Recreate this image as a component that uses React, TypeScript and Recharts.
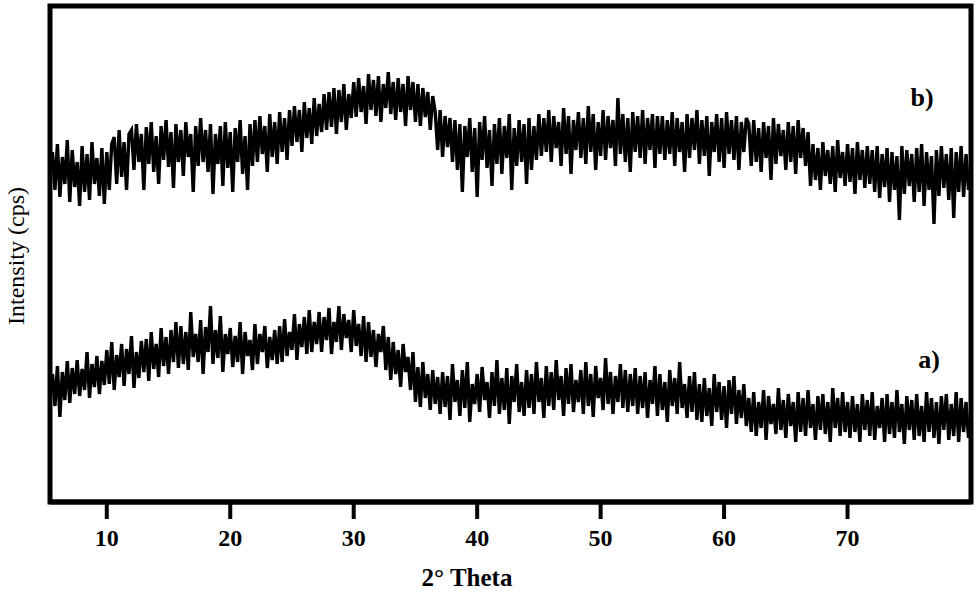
import { ComposedChart, Line, XAxis, YAxis, ReferenceArea } from "recharts";

// 2θ scan grid of the diffractometer
const THETA_START = 5.6;
const THETA_STEP = 0.2;
const X_TICKS = [10, 20, 30, 40, 50, 60, 70];

// a) lower trace, intensity (arbitrary cps)
const seriesA = [
  128, 96, 136, 85, 130, 102, 141, 99, 134, 108,
  142, 106, 133, 112, 150, 104, 138, 115, 146, 108, 141, 117,
  152, 118, 160, 112, 147, 125, 158, 116, 153, 128, 166, 114, 150, 124, 161,
  130, 163, 121, 170, 133, 158, 125, 174, 136, 165, 128, 172, 140, 180, 134,
  176, 138, 170, 132, 190, 145, 168, 140, 182, 128, 175, 150, 196, 138, 172, 144, 186, 130, 168, 148,
  174, 135, 166, 140, 180, 128, 170, 146, 162, 132, 178, 138, 168, 150, 176, 134, 165, 142, 172, 138,
  176, 140, 183, 146, 170, 152, 188, 142, 178, 155, 185, 148, 192, 150, 180,
  158, 190, 150, 185, 162, 194, 148, 180, 160, 196, 152, 188, 164, 182, 150, 192, 156, 178, 146, 186,
  140, 180, 145, 172, 135, 168, 150, 176, 132, 165,
  122, 160, 128, 152, 115, 158, 130, 145, 112, 150,
  100, 135, 95, 140, 104, 128, 92, 132, 98, 125,
  88, 130, 95, 126, 82, 138, 100, 122, 86, 132, 94, 140, 80, 118, 98, 128, 90, 135, 102, 120,
  84, 130, 96, 142, 88, 124, 92, 134, 78, 126, 100, 138, 90, 120, 86,
  132, 94, 128, 88, 140, 100, 124, 84, 136, 96, 130, 92, 142, 102, 126, 86, 134, 98, 138, 90,
  122, 100, 132, 88, 140, 96, 128, 85, 136, 104, 124, 92, 144, 98, 130, 88, 126, 100, 138, 94,
  132, 90, 128, 96, 134,
  88, 126, 94, 130, 84, 122, 98, 136, 86, 128, 92, 120, 80, 132, 96, 124, 88, 140, 94, 118,
  84, 126, 90, 130, 82,
  118, 80, 124, 86, 114, 76, 128, 90, 120, 82, 116, 74, 122, 88, 126, 78, 112, 84, 118, 76,
  104, 70, 110, 66, 100, 74, 112, 62, 106, 78, 98, 68, 114, 72, 102, 64, 108, 76, 100, 60,
  110, 70, 104, 66, 112, 74, 98, 62, 106, 72, 108, 68, 100, 60, 114, 74, 104, 66, 110, 70,
  100, 64, 106, 70, 98, 60, 108, 72, 102, 66, 110, 62, 96, 74, 104, 60, 108, 68, 100, 64,
  112, 70, 98, 58, 106, 72, 102, 62, 108, 66, 96, 60, 110, 70, 104, 64, 100, 58, 106, 72,
  108, 62, 98, 66, 110, 60, 104, 70, 100, 64,
];

// b) upper trace
const seriesB = [
  350, 312, 358, 305, 345, 318, 362, 300, 352, 315, 340, 296, 356, 310, 348, 302, 360, 318, 344, 306,
  354, 298, 350, 312, 358,
  365, 318, 372, 325, 360, 312, 368,
  372, 332, 378, 340, 368, 312, 375, 338, 380, 330, 366, 318, 376, 342, 382, 335, 370, 314,
  378, 340, 372, 326, 380, 345, 368, 310, 376, 336, 384, 340,
  372, 330, 378, 308, 368, 338, 376, 316, 380, 334, 370, 310, 374, 340, 382, 328, 366, 312, 378, 336,
  382, 340, 386, 348, 376, 330, 388, 345, 380, 338, 390, 350, 384, 342, 392,
  356, 396, 360, 392, 350, 400, 364, 394, 358, 404, 366, 398, 370, 408, 372,
  410, 375, 414, 368, 412, 380, 418, 372, 408, 384,
  420, 385, 424, 390, 416, 378, 428, 392, 422, 386, 426, 380, 418, 394, 430, 388, 420, 382, 424, 390,
  418, 376, 426, 392, 420,
  380, 418, 376, 414, 385, 410, 372, 406,
  390, 352, 392, 345, 386, 355, 384,
  340, 382, 332, 378, 310, 376, 345, 384, 330, 374, 305, 380, 342, 386, 334, 372, 316, 378, 338, 384,
  328, 376, 344, 388, 312, 374, 336, 382, 340, 378, 318, 384, 332, 376, 342,
  388, 346, 384, 350, 392, 340, 386, 354, 380, 336, 394, 348, 386, 328, 382, 352, 390, 344, 384, 338,
  396, 350, 388, 332, 380, 346, 392, 342, 386, 354, 382, 336, 404, 348, 388, 340, 384, 330, 390, 350,
  386, 344, 392, 338, 384, 352, 388, 334, 386, 348,
  386, 342, 382, 348, 390, 336, 384, 350, 380, 330, 388, 344, 384, 352, 392, 338, 382, 346, 386, 326,
  380, 350, 388, 340, 384, 334, 390, 348, 382, 342, 386, 332, 380, 350, 384,
  378, 336, 382, 340, 374, 330, 380, 344, 376, 322, 384, 338, 378, 346, 372, 332, 380, 340, 376, 328,
  382, 344, 374, 336, 370,
  316, 358, 322, 354, 312, 360, 326, 352, 318, 356, 310, 362, 324, 350, 316, 358, 320, 354, 308, 360,
  322, 352, 314, 356, 318,
  352, 310, 356, 304, 348, 315, 354, 300, 350, 312, 346, 282, 356, 308, 352, 316, 348, 300, 354, 310,
  358, 296, 350, 312, 346, 278, 352, 306, 356, 314, 348, 302, 354, 284, 350, 310, 356, 305, 348, 312,
];

const toRows = (vals: number[]) =>
  vals.map((v, i) => ({ theta: +(THETA_START + i * THETA_STEP).toFixed(1), cps: v }));

const rowsA = toRows(seriesA);
const rowsB = toRows(seriesB);

const FONT = "'Liberation Serif', 'DejaVu Serif', serif";

export default function App() {
  return (
    <div style={{ position: "absolute", left: 0, top: 0, background: "#fff" }}>
      <ComposedChart width={980} height={594} margin={{ top: 6, right: 9, bottom: 32, left: 50 }}>
        <XAxis
          dataKey="theta"
          type="number"
          domain={[5.4, 80]}
          allowDataOverflow
          ticks={X_TICKS}
          height={60}
          axisLine={{ stroke: "#000", strokeWidth: 5 }}
          tickLine={{ stroke: "#000", strokeWidth: 4 }}
          tickSize={17}
          tickMargin={10}
          tick={{ fill: "#000", fontSize: 24, fontWeight: 700, fontFamily: FONT }}
        />
        <YAxis type="number" domain={[0, 496]} hide />
        <ReferenceArea
          x1={5.4}
          x2={80}
          y1={0}
          y2={496}
          fill="none"
          stroke="#000"
          strokeWidth={5}
          ifOverflow="visible"
        />
        <Line
          data={rowsB}
          dataKey="cps"
          type="linear"
          stroke="#000"
          strokeWidth={3.4}
          dot={false}
          isAnimationActive={false}
        />
        <Line
          data={rowsA}
          dataKey="cps"
          type="linear"
          stroke="#000"
          strokeWidth={3.4}
          dot={false}
          isAnimationActive={false}
        />
        <text x={922} y={106} textAnchor="middle" fontSize={26} fontWeight={700} fontFamily={FONT} fill="#000">
          b)
        </text>
        <text x={929} y={368} textAnchor="middle" fontSize={26} fontWeight={700} fontFamily={FONT} fill="#000">
          a)
        </text>
        <text x={467} y={586} textAnchor="middle" fontSize={25} fontWeight={700} fontFamily={FONT} fill="#000">
          2° Theta
        </text>
        <text
          x={0}
          y={0}
          transform="translate(24 256) rotate(-90)"
          textAnchor="middle"
          fontSize={24}
          fontFamily={FONT}
          fill="#000"
        >
          Intensity (cps)
        </text>
      </ComposedChart>
    </div>
  );
}
